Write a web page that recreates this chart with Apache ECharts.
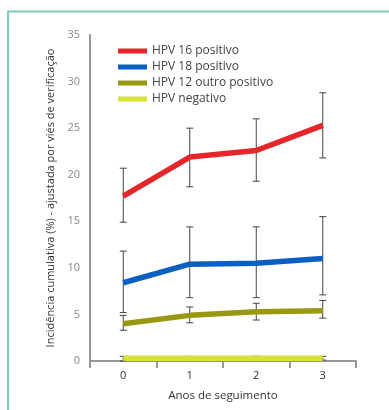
<!DOCTYPE html>
<html>
<head>
<meta charset="utf-8">
<script src="https://cdn.jsdelivr.net/npm/echarts@6/dist/echarts.min.js"></script>
<style>html,body{margin:0;padding:0;background:#fff}#c{width:389px;height:410px}</style>
</head>
<body>
<div id="c"></div>
<script>
var categories = ['0', '1', '2', '3'];
var yTicks = [0, 5, 10, 15, 20, 25, 30, 35];
var seriesNames = ['HPV 16 positivo', 'HPV 18 positivo', 'HPV 12 outro positivo', 'HPV negativo'];
var hpv16 = [17.7, 21.9, 22.6, 25.3];
var hpv16Low = [14.9, 18.7, 19.3, 21.8];
var hpv16High = [20.7, 25.0, 26.0, 28.8];
var hpv18 = [8.4, 10.4, 10.5, 11.0];
var hpv18Low = [5.2, 6.8, 6.8, 7.1];
var hpv18High = [11.8, 14.4, 14.4, 15.5];
var hpv12 = [4.0, 4.9, 5.3, 5.4];
var hpv12Low = [3.3, 4.1, 4.4, 4.6];
var hpv12High = [4.9, 5.8, 6.2, 6.5];
var neg = [0.3, 0.3, 0.3, 0.3];
var negLow = [0.0, 0.1, 0.1, 0.1];
var negHigh = [0.5, 0.5, 0.5, 0.5];

var colors = ['#e5262a', '#0b5fc2', '#9a9812', '#d8e03a'];
var means = [hpv16, hpv18, hpv12, neg];
var lows = [hpv16Low, hpv18Low, hpv12Low, negLow];
var highs = [hpv16High, hpv18High, hpv12High, negHigh];

function errData(lo, hi) {
  return categories.map(function (c, i) { return [i, lo[i], hi[i]]; });
}
function renderErr(params, api) {
  var x = api.value(0);
  var p1 = api.coord([x, api.value(1)]);
  var p2 = api.coord([x, api.value(2)]);
  var w = 3.5;
  var st = { stroke: '#444', lineWidth: 1 };
  return {
    type: 'group',
    children: [
      { type: 'line', shape: { x1: p1[0], y1: p1[1], x2: p2[0], y2: p2[1] }, style: st },
      { type: 'line', shape: { x1: p1[0] - w, y1: p1[1], x2: p1[0] + w, y2: p1[1] }, style: st },
      { type: 'line', shape: { x1: p2[0] - w, y1: p2[1], x2: p2[0] + w, y2: p2[1] }, style: st }
    ]
  };
}

var series = [];
for (var k = 0; k < 4; k++) {
  series.push({
    type: 'custom',
    name: seriesNames[k] + ' err',
    renderItem: renderErr,
    data: errData(lows[k], highs[k]),
    z: 1,
    silent: true
  });
}
for (var k2 = 0; k2 < 4; k2++) {
  series.push({
    type: 'line',
    name: seriesNames[k2],
    data: means[k2],
    symbol: 'none',
    lineStyle: { width: 5.5, color: colors[k2], cap: 'butt' },
    itemStyle: { color: colors[k2] },
    z: 3
  });
}

var chart = echarts.init(document.getElementById('c'), null, { renderer: 'canvas' });
chart.setOption({
  animation: false,
  backgroundColor: '#fff',
  graphic: [{
    type: 'polyline',
    shape: { points: [[8, 412], [8, 11.5], [392, 11.5]] },
    style: { stroke: '#7fcdb9', lineWidth: 2, fill: null },
    z: 0
  }],
  legend: {
    data: seriesNames,
    orient: 'vertical',
    left: 113,
    top: 40,
    itemWidth: 29,
    itemHeight: 5,
    itemGap: 4,
    icon: 'rect',
    textStyle: { fontFamily: 'Open Sans', fontSize: 12, color: '#444' }
  },
  grid: { left: 90, right: 33, top: 35, bottom: 49, containLabel: false },
  xAxis: {
    type: 'category',
    data: categories,
    boundaryGap: true,
    name: 'Anos de seguimento',
    nameLocation: 'middle',
    nameGap: 29,
    nameTextStyle: { fontFamily: 'Open Sans', fontSize: 11.5, color: '#333' },
    axisLine: { lineStyle: { color: '#999', width: 2 } },
    axisTick: { show: true, inside: false, length: 7, lineStyle: { color: '#999', width: 2 } },
    axisLabel: { margin: 9, fontFamily: 'Open Sans', fontSize: 11, color: '#333' },
    splitLine: { show: false }
  },
  yAxis: {
    type: 'value',
    min: yTicks[0],
    max: yTicks[yTicks.length - 1],
    interval: 5,
    name: 'Incidência cumulativa (%) - ajustada por viés de verificação',
    nameLocation: 'middle',
    nameGap: 34,
    nameTextStyle: { fontFamily: 'Open Sans', fontSize: 11, color: '#333' },
    axisLine: { show: true, lineStyle: { color: '#999', width: 2 } },
    axisTick: { show: false },
    axisLabel: { margin: 10, fontFamily: 'Open Sans', fontSize: 11, color: '#888' },
    splitLine: { show: false }
  },
  series: series
});
</script>
</body>
</html>
